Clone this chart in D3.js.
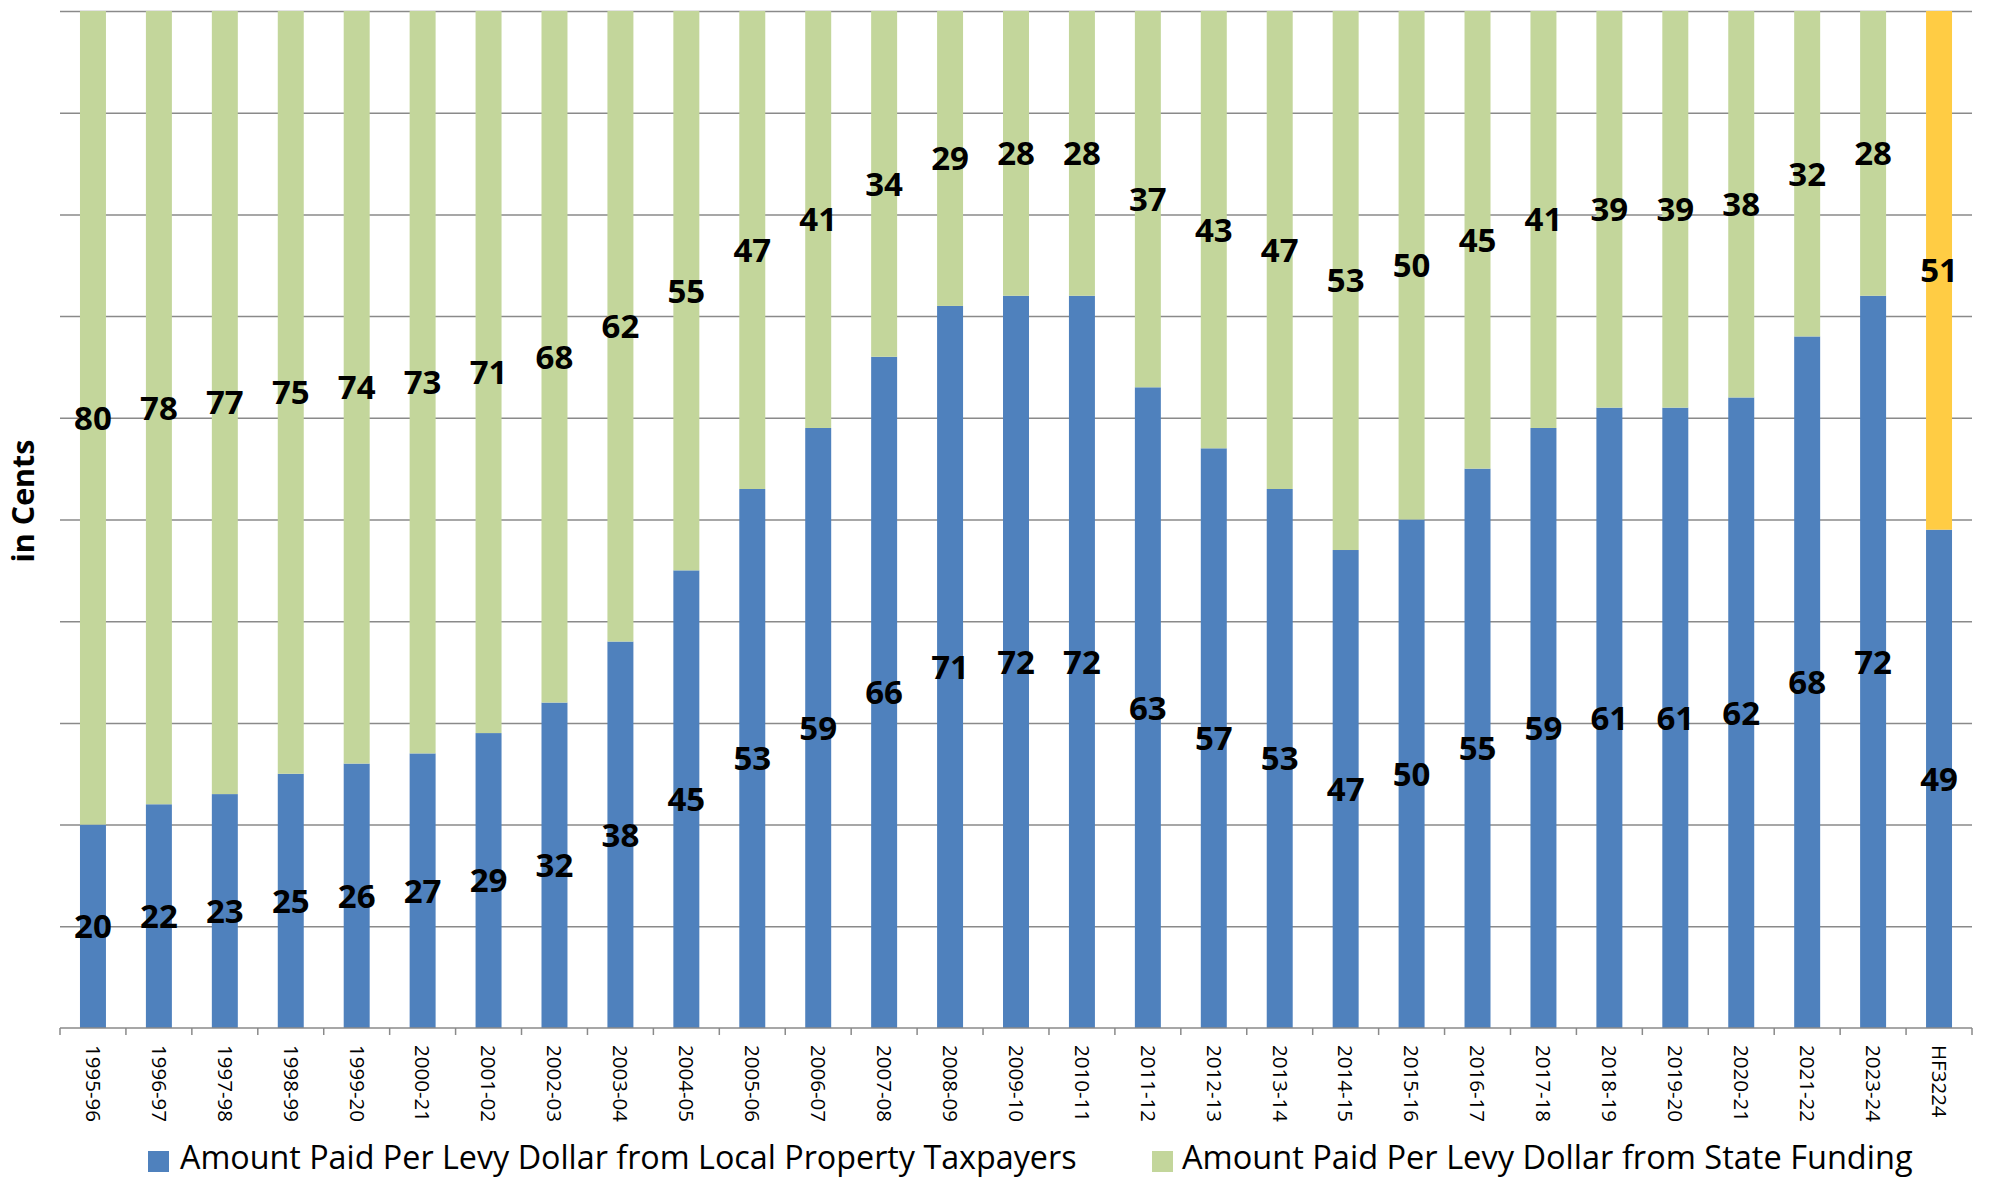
<!DOCTYPE html>
<html><head><meta charset="utf-8">
<script src="https://cdn.jsdelivr.net/npm/d3@7"></script>
<style>body{margin:0;background:#fff;} svg{display:block;font-family:"Open Sans",sans-serif;}</style>
</head><body>
<svg id="chart" width="2011" height="1180"></svg>
<script>
const categories = ["1995-96","1996-97","1997-98","1998-99","1999-20","2000-21","2001-02","2002-03","2003-04","2004-05","2005-06","2006-07","2007-08","2008-09","2009-10","2010-11","2011-12","2012-13","2013-14","2014-15","2015-16","2016-17","2017-18","2018-19","2019-20","2020-21","2021-22","2023-24","HF3224"];
const localValues = [20,22,23,25,26,27,29,32,38,45,53,59,66,71,72,72,63,57,53,47,50,55,59,61,61,62,68,72,49];
const stateValues = [80,78,77,75,74,73,71,68,62,55,47,41,34,29,28,28,37,43,47,53,50,45,41,39,39,38,32,28,51];
const gridValues = [10,20,30,40,50,60,70,80,90,100];
const seriesNames = ["Amount Paid Per Levy Dollar from Local Property Taxpayers","Amount Paid Per Levy Dollar from State Funding"];
const highlightCategory = "HF3224";
const yTitle = "in Cents";

(function () {
const colors = {local:"#4F81BD", state:"#C3D69B", highlight:"#FFCC44"};
const gridColor = "#8a8a8a";

const svg = d3.select("#chart");
const pLeft = 60, pRight = 1972, pTop = 11, pBottom = 1028;

const x = d3.scaleBand().domain(categories).range([pLeft, pRight]).paddingInner(0.606).paddingOuter(0.303);
const y = d3.scaleLinear().domain([0, 100]).range([pBottom, pTop]);
const step = x.step(), bw = x.bandwidth();
const gap = (step - bw) / 2;

// gridlines
const grid = svg.append("g").attr("transform", `translate(${pLeft},0)`)
  .call(d3.axisLeft(y).tickValues(gridValues).tickSize(-(pRight - pLeft)).tickFormat(""));
grid.select(".domain").remove();
grid.selectAll("line").attr("stroke", gridColor).attr("stroke-width", 1.5);

// data
const rows = categories.map((c, i) => ({category: c, local: localValues[i], state: stateValues[i]}));
const stack = d3.stack().keys(["local", "state"])(rows);

const layers = svg.append("g").selectAll("g").data(stack).join("g");
layers.selectAll("rect").data(s => s.map(d => ({key: s.key, d}))).join("rect")
  .attr("x", e => x(e.d.data.category))
  .attr("width", bw)
  .attr("y", e => y(e.d[1]))
  .attr("height", e => y(e.d[0]) - y(e.d[1]))
  .attr("fill", e => (e.key === "state" && e.d.data.category === highlightCategory) ? colors.highlight : colors[e.key]);

// x axis line and boundary ticks
svg.append("line").attr("x1", pLeft).attr("x2", pRight).attr("y1", pBottom).attr("y2", pBottom)
  .attr("stroke", gridColor).attr("stroke-width", 1.5);
const boundaries = categories.map(c => x(c) - gap).concat([x(categories[categories.length - 1]) + bw + gap]);
svg.append("g").selectAll("line").data(boundaries).join("line")
  .attr("x1", d => d).attr("x2", d => d).attr("y1", pBottom).attr("y2", pBottom + 7)
  .attr("stroke", gridColor).attr("stroke-width", 1.5);

// tick labels
svg.append("g").selectAll("text").data(categories).join("text")
  .attr("transform", c => `translate(${x(c) + bw / 2},${pBottom + 17}) rotate(90)`)
  .attr("dy", "0.35em").attr("text-anchor", "start")
  .attr("font-size", 20.5).attr("fill", "#000").text(c => c);

// data labels
const labels = svg.append("g");
stack.forEach(s => {
  labels.append("g").selectAll("text").data(s).join("text")
    .attr("x", d => x(d.data.category) + bw / 2)
    .attr("y", d => y((d[0] + d[1]) / 2))
    .attr("dy", "0.36em").attr("text-anchor", "middle")
    .attr("font-size", 33).attr("font-weight", "bold").attr("fill", "#000")
    .text(d => d[1] - d[0]);
});

// y title
function fit(sel, target) {
  const fs = +sel.attr("font-size");
  const len = sel.node().getComputedTextLength();
  if (len > 0) sel.attr("font-size", fs * target / len);
}
const yt = svg.append("text").attr("transform", "translate(23,501) rotate(-90)")
  .attr("text-anchor", "middle").attr("dy", "0.35em")
  .attr("font-weight", "bold").attr("font-size", 28).text(yTitle);
fit(yt, 123);

// legend
const legendItems = [
  {name: seriesNames[0], color: colors.local, sx: 148, tx: 180, w: 897},
  {name: seriesNames[1], color: colors.state, sx: 1152, tx: 1182, w: 731}
];
const lg = svg.append("g");
legendItems.forEach(it => {
  lg.append("rect").attr("x", it.sx).attr("y", 1151).attr("width", 21).attr("height", 21).attr("fill", it.color);
  const t = lg.append("text").attr("x", it.tx).attr("y", 1158).attr("dy", "0.35em")
    .attr("font-size", 30).attr("fill", "#000").text(it.name);
  fit(t, it.w);
});
})();
</script>
</body></html>
